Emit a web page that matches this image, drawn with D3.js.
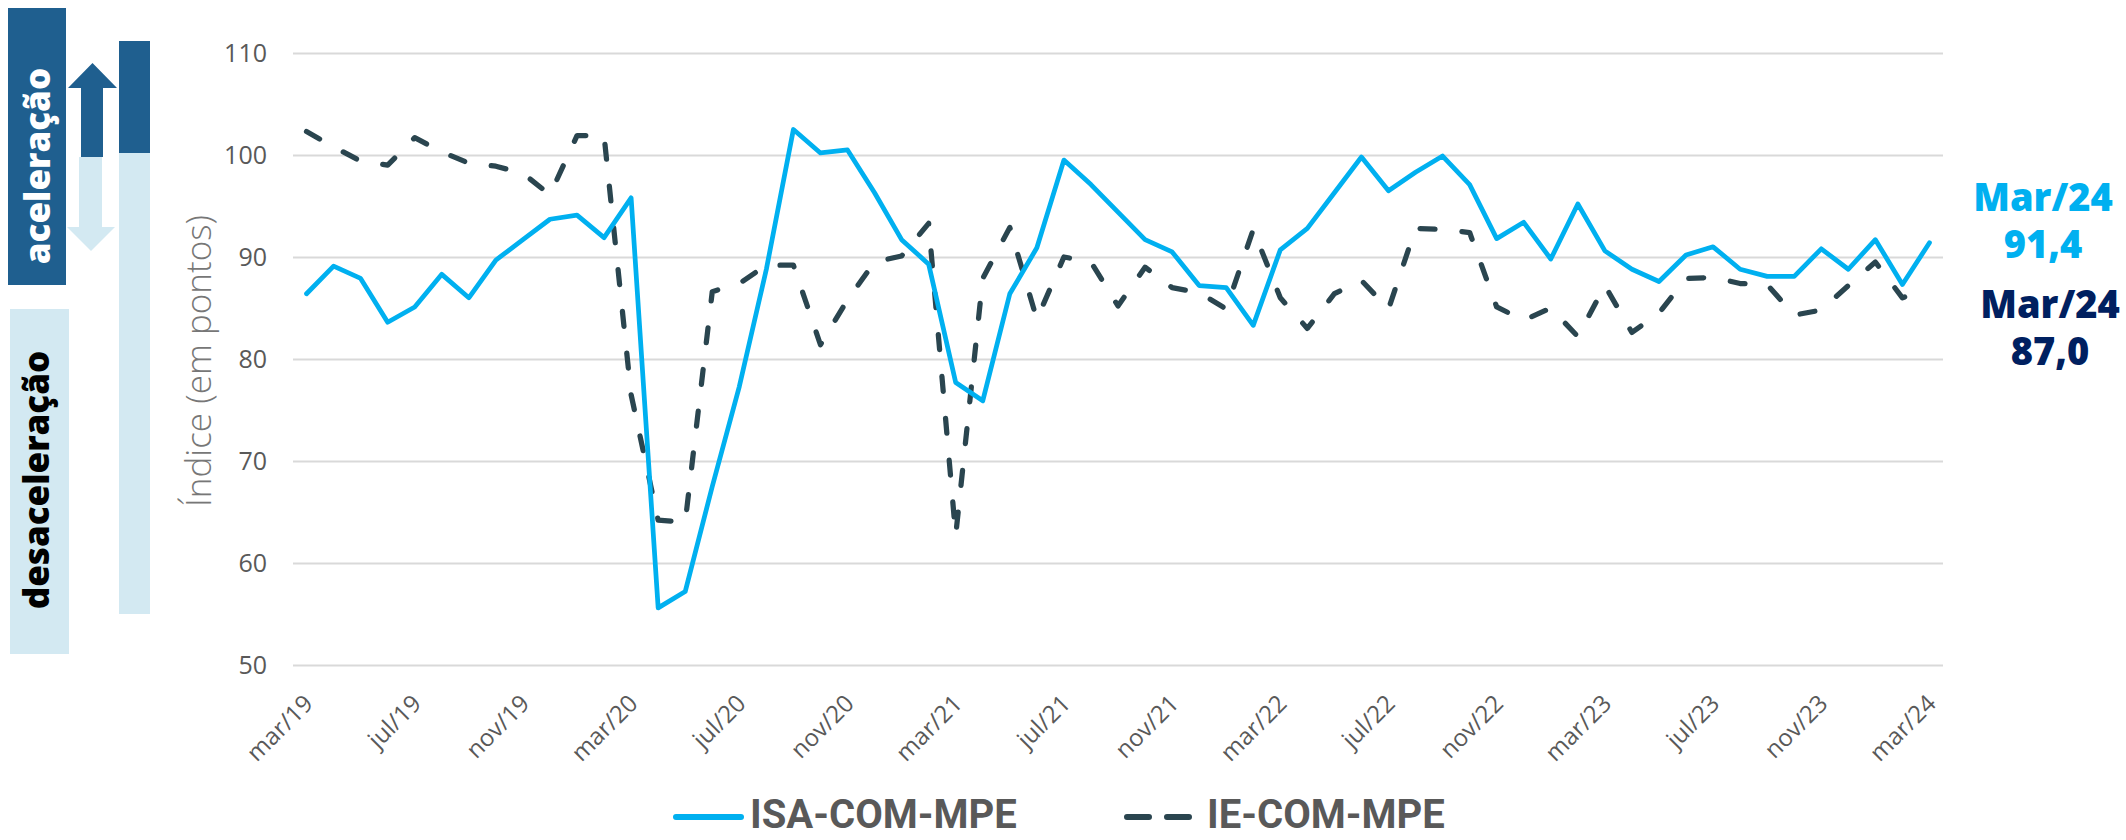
<!DOCTYPE html>
<html lang="pt">
<head>
<meta charset="utf-8">
<script src="https://cdn.jsdelivr.net/npm/d3@7/dist/d3.min.js"></script>
<style>
  html, body { margin: 0; padding: 0; background: #fff; }
  svg { display: block; }
</style>
</head>
<body>
<div id="chart"></div>
<script>
// monthly categories, mar/19 .. mar/24
const months = [
  "mar/19", "abr/19", "mai/19", "jun/19", "jul/19", "ago/19", "set/19", "out/19", "nov/19", "dez/19",
  "jan/20", "fev/20", "mar/20", "abr/20", "mai/20", "jun/20", "jul/20", "ago/20", "set/20", "out/20",
  "nov/20", "dez/20", "jan/21", "fev/21", "mar/21", "abr/21", "mai/21", "jun/21", "jul/21", "ago/21",
  "set/21", "out/21", "nov/21", "dez/21", "jan/22", "fev/22", "mar/22", "abr/22", "mai/22", "jun/22",
  "jul/22", "ago/22", "set/22", "out/22", "nov/22", "dez/22", "jan/23", "fev/23", "mar/23", "abr/23",
  "mai/23", "jun/23", "jul/23", "ago/23", "set/23", "out/23", "nov/23", "dez/23", "jan/24", "fev/24",
  "mar/24"
];

const isaCom = [
  86.4, 89.1, 87.9, 83.6, 85.1, 88.3, 86.0, 89.7, 91.7, 93.7,
  94.1, 91.9, 95.8, 55.6, 57.2, 67.5, 77.3, 88.8, 102.5, 100.2,
  100.5, 96.3, 91.7, 89.3, 77.7, 75.9, 86.4, 90.9, 99.5, 97.1,
  94.4, 91.7, 90.5, 87.2, 87.0, 83.3, 90.7, 92.8, 96.3, 99.8,
  96.5, 98.3, 99.9, 97.1, 91.8, 93.4, 89.8, 95.2, 90.6, 88.8,
  87.6, 90.2, 91.0, 88.8, 88.1, 88.1, 90.8, 88.8, 91.7, 87.3,
  91.4
];

const ieCom = [
  102.3, 100.8, 99.4, 99.0, 101.7, 100.3, 99.2, 98.9, 98.2, 96.1,
  101.9, 101.9, 76.5, 64.2, 64.0, 86.6, 87.4, 89.2, 89.2, 81.4,
  85.8, 89.5, 90.1, 93.3, 62.7, 87.9, 92.9, 83.9, 90.0, 89.5,
  85.2, 89.0, 87.0, 86.5, 84.9, 92.7, 86.0, 83.0, 86.4, 87.7,
  84.9, 92.8, 92.7, 92.4, 85.1, 83.8, 85.0, 82.2, 87.2, 82.6,
  84.5, 87.9, 88.0, 87.4, 87.3, 84.3, 84.8, 87.2, 89.5, 86.0,
  87.0
];

const yTicks = [50, 60, 70, 80, 90, 100, 110];
const xTickLabels = [
  "mar/19", "jul/19", "nov/19", "mar/20", "jul/20", "nov/20", "mar/21", "jul/21",
  "nov/21", "mar/22", "jul/22", "nov/22", "mar/23", "jul/23", "nov/23", "mar/24"
];
const seriesNames = ["ISA-COM-MPE", "IE-COM-MPE"];

const W = 2126, H = 840;
const plot = { left: 293, right: 1943, top: 53, bottom: 665 };
const BLUE = "#00b0f0", SLATE = "#2a454f", NAVY = "#002060";
const DARK_BOX = "#1f5f8f", LIGHT_BOX = "#d3e9f2";
const DASH = "15,27";

const svg = d3.select("#chart").append("svg")
  .attr("width", W).attr("height", H)
  .attr("viewBox", `0 0 ${W} ${H}`);

const x = d3.scaleBand().domain(months).range([plot.left, plot.right]);
const cx = (m) => x(m) + x.bandwidth() / 2;
const y = d3.scaleLinear().domain([50, 110]).range([plot.bottom, plot.top]);

// gridlines
svg.append("g")
  .attr("transform", `translate(${plot.left},0)`)
  .call(d3.axisLeft(y).tickValues(yTicks).tickSize(-(plot.right - plot.left)).tickFormat(""))
  .call((g) => g.select(".domain").remove())
  .call((g) => g.selectAll("line").attr("stroke", "#d9d9d9").attr("stroke-width", 2));

// y tick labels
svg.append("g")
  .attr("transform", `translate(${plot.left},0)`)
  .call(d3.axisLeft(y).tickValues(yTicks).tickSize(0).tickPadding(26))
  .call((g) => g.select(".domain").remove())
  .call((g) => g.selectAll("text")
    .attr("fill", "#595959")
    .style("font-family", "'Open Sans', sans-serif")
    .style("font-size", "25px"));

// x tick labels, rotated
svg.append("g")
  .attr("transform", `translate(0,${plot.bottom})`)
  .call(d3.axisBottom(x).tickValues(xTickLabels).tickSize(0))
  .call((g) => g.select(".domain").remove())
  .call((g) => g.selectAll("text")
    .attr("y", 0).attr("dy", 0)
    .attr("text-anchor", "end")
    .attr("transform", "translate(8,40) rotate(-45)")
    .attr("fill", "#595959")
    .style("font-family", "'Open Sans', sans-serif")
    .style("font-size", "24px"));

// y axis title
svg.append("text")
  .attr("transform", "translate(211,361) rotate(-90)")
  .attr("text-anchor", "middle")
  .attr("fill", "#777")
  .style("font-family", "'Open Sans', sans-serif")
  .style("font-weight", 300)
  .style("font-size", "35px")
  .text("Índice (em pontos)");

// series
const line = d3.line().x((d, i) => cx(months[i])).y((d) => y(d));

svg.append("path")
  .datum(ieCom)
  .attr("d", line)
  .attr("fill", "none")
  .attr("stroke", SLATE)
  .attr("stroke-width", 5.25)
  .attr("stroke-linecap", "round")
  .attr("stroke-linejoin", "round")
  .attr("stroke-dasharray", DASH);

svg.append("path")
  .datum(isaCom)
  .attr("d", line)
  .attr("fill", "none")
  .attr("stroke", BLUE)
  .attr("stroke-width", 4.75)
  .attr("stroke-linejoin", "round")
  .attr("stroke-linecap", "round");

// left side: acceleration / deceleration boxes and arrows
const side = svg.append("g");
side.append("rect").attr("x", 8).attr("y", 8).attr("width", 58).attr("height", 277).attr("fill", DARK_BOX);
side.append("rect").attr("x", 10).attr("y", 309).attr("width", 59).attr("height", 345).attr("fill", LIGHT_BOX);
side.append("rect").attr("x", 119).attr("y", 153).attr("width", 31).attr("height", 461).attr("fill", LIGHT_BOX);
side.append("rect").attr("x", 119).attr("y", 41).attr("width", 31).attr("height", 112).attr("fill", DARK_BOX);

side.append("path")
  .attr("d", "M81,157 L81,88 L68,88 L92.5,63 L117,88 L103,88 L103,157 Z")
  .attr("fill", DARK_BOX);
side.append("path")
  .attr("d", "M79,157 L79,227 L67,227 L91,251 L115,227 L102,227 L102,157 Z")
  .attr("fill", LIGHT_BOX);

side.append("text")
  .attr("transform", "translate(50,166) rotate(-90)")
  .attr("text-anchor", "middle")
  .attr("fill", "#fff")
  .style("font-family", "'Open Sans', sans-serif")
  .style("font-weight", 800)
  .style("font-size", "35px")
  .text("aceleração");

side.append("text")
  .attr("transform", "translate(49,480) rotate(-90)")
  .attr("text-anchor", "middle")
  .attr("fill", "#000")
  .style("font-family", "'Open Sans', sans-serif")
  .style("font-weight", 800)
  .style("font-size", "35px")
  .text("desaceleração");

// end-of-series annotations
const last = months.length - 1;
const lastLabel = months[last].charAt(0).toUpperCase() + months[last].slice(1);
const fmt = (v) => v.toFixed(1).replace(".", ",");
const notes = [
  { cx: 2043, y0: 211, color: BLUE, value: isaCom[last] },
  { cx: 2050, y0: 318, color: NAVY, value: ieCom[last] }
];
notes.forEach((n) => {
  const t = svg.append("text")
    .attr("text-anchor", "middle")
    .attr("fill", n.color)
    .style("font-family", "'Open Sans', sans-serif")
    .style("font-weight", 800)
    .style("font-size", "38px");
  t.append("tspan").attr("x", n.cx).attr("y", n.y0).text(lastLabel);
  t.append("tspan").attr("x", n.cx).attr("y", n.y0 + 47).text(fmt(n.value));
});

// legend
const legend = svg.append("g");
legend.append("line")
  .attr("x1", 676).attr("x2", 741).attr("y1", 817).attr("y2", 817)
  .attr("stroke", BLUE).attr("stroke-width", 6).attr("stroke-linecap", "round");
legend.append("line")
  .attr("x1", 1127).attr("x2", 1193).attr("y1", 817).attr("y2", 817)
  .attr("stroke", SLATE).attr("stroke-width", 6).attr("stroke-linecap", "round")
  .attr("stroke-dasharray", "22,18");

legend.selectAll("text.lg")
  .data(seriesNames)
  .enter()
  .append("text")
  .attr("class", "lg")
  .attr("x", (d, i) => (i === 0 ? 750 : 1207))
  .attr("y", 828)
  .attr("fill", "#595959")
  .style("font-family", "Roboto, sans-serif")
  .style("font-weight", 700)
  .style("font-size", "40px")
  .text((d) => d);
</script>
</body>
</html>
